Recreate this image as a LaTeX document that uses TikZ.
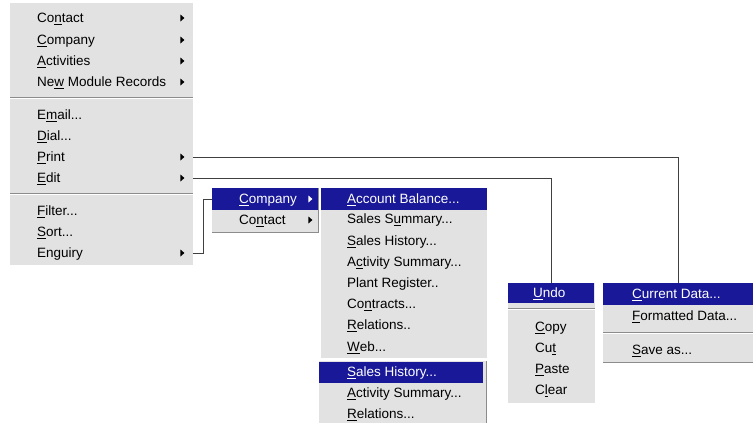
\documentclass[tikz,border=0pt]{standalone}
\usepackage{fontspec}
\setmainfont{Liberation Sans}
\usepackage{tikz}
\usetikzlibrary{shapes.geometric,positioning,calc}
\definecolor{menugray}{RGB}{226,226,226}
\definecolor{selblue}{RGB}{24,24,152}
\definecolor{sepgray}{RGB}{140,140,140}
\newcommand{\ak}[1]{\underline{#1}}

\begin{document}
\begin{tikzpicture}[x=1pt,y=-1pt,
	menubox/.style={fill=menugray,anchor=north west,inner sep=0pt},
	selbar/.style={fill=selblue,anchor=north west,inner sep=0pt},
	item/.style={anchor=base west,inner sep=0pt,font=\fontsize{13.5}{15}\selectfont},
	selitem/.style={item,text=white},
	subarr/.style={isosceles triangle,isosceles triangle stretches,fill=black,inner sep=0pt,minimum width=7pt,minimum height=4pt},
	link/.style={draw=black!75,line width=1pt}]
	\useasboundingbox (0,0) rectangle (753,423);
	% main menu
	\node[menubox,minimum width=183pt,minimum height=262pt] (mainmenu) at (10,3) {};
	\draw[sepgray] (10,97) -- (193,97);
	\draw[white] (10,98.5) -- (193,98.5);
	\draw[sepgray] (10,193) -- (193,193);
	\draw[white] (10,194.5) -- (193,194.5);
	\foreach \y/\txt [count=\i] in {18/{Co\ak{n}tact},40/{\ak{C}ompany},61/{\ak{A}ctivities},82/{Ne\ak{w} Module Records},
		115/{E\ak{m}ail...},136/{\ak{D}ial...},157/{\ak{P}rint},178/{\ak{E}dit},211/{\ak{F}ilter...},232/{\ak{S}ort...},253/{Enguiry}}
		\node[item] (main\i) at (37,\y+4.5) {\txt};
	\foreach \y/\n in {18/contact,40/company,61/activ,82/newmod,157/print,178/edit,253/enq}
		\node[subarr] (arr\n) at (182,\y) {};
	% company / contact
	\node[menubox,minimum width=106pt,minimum height=44pt] (sub1) at (212,188) {};
	\draw[sepgray] (sub1.south west) -- (sub1.south east) -- (sub1.north east);
	\node[selbar,minimum width=106pt,minimum height=22pt] (hlcomp) at (212,188) {};
	\node[selitem] (s1comp) at (239,199+4.5) {\ak{C}ompany};
	\node[item] (s1cont) at (239,220+4.5) {Co\ak{n}tact};
	\node[subarr,fill=white] (arrs1comp) at (310,199) {};
	\node[subarr] (arrs1cont) at (310,220) {};
	% company reports
	\node[menubox,minimum width=166pt,minimum height=170pt] (sub2) at (321,188) {};
	\node[selbar,minimum width=166pt,minimum height=22pt] (hlacc) at (321,188) {};
	\node[selitem] (s2acc) at (347,199+4.5) {\ak{A}ccount Balance...};
	\foreach \y/\txt [count=\i] in {219/{Sales S\ak{u}mmary...},241/{\ak{S}ales History...},262/{A\ak{c}tivity Summary...},
		283/{Plant Register..},304/{Co\ak{n}tracts...},325/{\ak{R}elations..},347/{\ak{W}eb...}}
		\node[item] (s2\i) at (347,\y+4.5) {\txt};
	% contact reports
	\node[menubox,minimum width=167pt,minimum height=62pt] (sub3) at (319,361) {};
	\draw[sepgray] (sub3.north east) -- (sub3.south east);
	\node[selbar,minimum width=164pt,minimum height=21pt] (hlsales) at (319,362) {};
	\node[selitem] (s3sales) at (347,372+4.5) {\ak{S}ales History...};
	\node[item] (s3act) at (347,393+4.5) {\ak{A}ctivity Summary...};
	\node[item] (s3rel) at (347,414+4.5) {\ak{R}elations...};
	% edit
	\node[menubox,minimum width=87pt,minimum height=120pt] (undomenu) at (508,283) {};
	\node[selbar,minimum width=86pt,minimum height=20pt] (hlundo) at (508,283) {};
	\node[selitem] (undo) at (533,293+4.5) {\ak{U}ndo};
	\draw[sepgray] (508,308) -- (595,308);
	\draw[white] (508,309.5) -- (595,309.5);
	\foreach \y/\txt [count=\i] in {327/{\ak{C}opy},348/{Cu\ak{t}},369/{\ak{P}aste},390/{C\ak{l}ear}}
		\node[item] (ed\i) at (535,\y+4.5) {\txt};
	% print
	\node[menubox,minimum width=150pt,minimum height=79pt] (datamenu) at (603,283) {};
	\draw[sepgray] (datamenu.south west) -- (datamenu.south east);
	\node[selbar,minimum width=150pt,minimum height=22pt] (hlcur) at (603,283) {};
	\node[selitem] (pcur) at (632,294+4.5) {\ak{C}urrent Data...};
	\node[item] (pform) at (632,316+4.5) {\ak{F}ormatted Data...};
	\draw[sepgray] (603,332) -- (753,332);
	\draw[white] (603,333.5) -- (753,333.5);
	\node[item] (psave) at (632,350+4.5) {\ak{S}ave as...};
	% links
	\draw[link] (arrprint -| mainmenu.east) -| (datamenu.north);
	\draw[link] (arredit -| mainmenu.east) -| (undomenu.north);
	\draw[link] (arrenq -| mainmenu.east) -- ++(10,0) |- (hlcomp.west);
\end{tikzpicture}
\end{document}
